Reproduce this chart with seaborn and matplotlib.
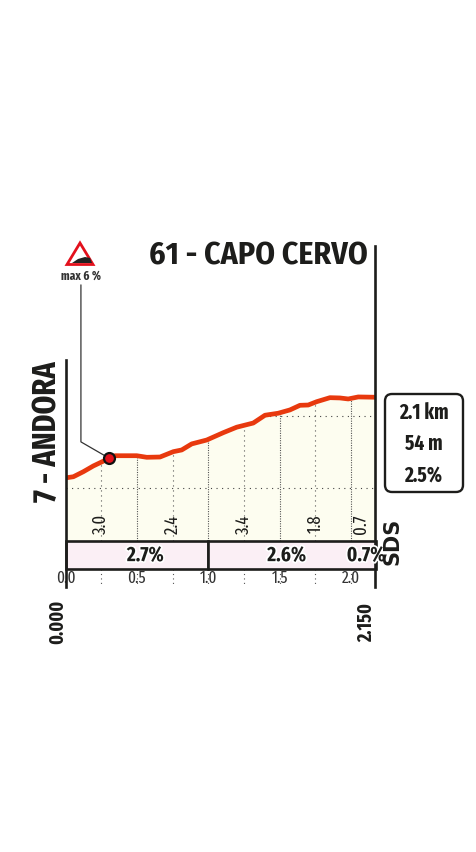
import numpy as np
import matplotlib
matplotlib.use('Agg')
import matplotlib.pyplot as plt
import matplotlib.patheffects as pe
from matplotlib.patches import FancyBboxPatch, Polygon
from matplotlib.transforms import Affine2D
import pandas as pd
import seaborn as sns
import logging

logging.getLogger('matplotlib.font_manager').setLevel(logging.ERROR)

# profile
km = [0.0, 0.055, 0.125, 0.195, 0.307, 0.347, 0.499, 0.569, 0.662, 0.755, 0.814, 0.884, 0.989,
      1.105, 1.199, 1.315, 1.397, 1.490, 1.572, 1.642, 1.700, 1.759, 1.852, 1.922, 1.980, 2.050, 2.171]
elev = [7.0, 7.8, 11.3, 15.3, 20.6, 22.4, 22.4, 21.3, 21.5, 25.2, 26.4, 30.6, 33.3,
        38.4, 42.2, 45.1, 50.5, 51.9, 54.2, 57.4, 57.6, 59.9, 62.7, 62.5, 61.8, 63.2, 63.0]

# gradient band
band_left = [0.0, 1.0]
band_width = [1.0, 1.171]
band_labels = ['2.7%', '2.6%', '0.7%']
band_label_km = [0.56, 1.55, 2.105]

# small gradients written up the profile
small_km = [0.25, 0.75, 1.25, 1.75, 2.07]
small_labels = ['3.0', '2.4', '3.4', '1.8', '0.7']

km_ticks = [0.0, 0.5, 1.0, 1.5, 2.0]
km_tick_labels = ['0.0', '0.5', '1.0', '1.5', '2.0']
grid_km = [0.25, 0.5, 0.75, 1.0, 1.25, 1.5, 1.75, 2.0]
grid_elev = [0, 50]
steep_km = 0.307
steep_elev = 20.6
info_lines = ['2.1 km', '54 m', '2.5%']

sns.set_style('white')
narrow = ['Fira Sans Extra Condensed', 'Fira Sans Condensed', 'Barlow Condensed', 'Liberation Sans', 'DejaVu Sans']
semi = ['Fira Sans Condensed', 'Barlow Condensed', 'Liberation Sans', 'DejaVu Sans']
plt.rcParams['font.family'] = narrow

dark = '#1d1d1b'
red = '#e8390e'

fig = plt.figure(figsize=(4.77, 8.52), dpi=100)
# axes goes from x 65.5 to 375.5 and y 246 to 587 in image pixels
ax = fig.add_axes([65.5 / 477, 1 - 587 / 852, 310 / 477, 341 / 852])
ax.set_xlim(0, 2.171)
ax.set_ylim(-68.75, 168)
ax.set_xticks([])
ax.set_yticks([])

# image pixel coordinates for the decorations outside the chart
px = Affine2D().scale(1, -1).translate(0, 852)

base = -36.8
band_low = -56.25
ax.fill_between(km, elev, base, color='#fdfdf0', lw=0, zorder=1)

# dotted grid stops at the profile
for x in grid_km:
    top = np.interp(x, km, elev)
    dense = x in km_ticks
    ax.plot([x, x], [base, top], color='#555555', lw=0.8, zorder=2,
            ls=(0, (1, 1.2)) if dense else (0, (1, 3.5)))
    ax.plot([x, x], [band_low, -67], color='#555555', lw=0.8, zorder=2, ls=(0, (1, 3)))
for y in grid_elev:
    start = np.interp(y, elev, km) if y > 7 else 0
    ax.plot([start, 2.171], [y, y], color='#444444', lw=0.8, zorder=2, ls=(0, (1, 4)))

df = pd.DataFrame({'km': km, 'elev': elev})
sns.lineplot(data=df, x='km', y='elev', color=red, lw=3.4, ax=ax, zorder=4, errorbar=None,
             solid_capstyle='butt')
ax.set_xlabel('')
ax.set_ylabel('')

ax.barh((base + band_low) / 2, band_width, left=band_left, height=base - band_low,
        color='#fbeff5', edgecolor=dark, lw=1.9, zorder=3, clip_on=False)

for s in ['top', 'bottom']:
    ax.spines[s].set_visible(False)
for s in ['left', 'right']:
    ax.spines[s].set_color(dark)
    ax.spines[s].set_linewidth(1.9)
    ax.spines[s].set_zorder(6)
ax.spines['left'].set_bounds(-68.75, 89)

halo = [pe.withStroke(linewidth=2.5, foreground='white')]
for x, lab in zip(band_label_km, band_labels):
    ax.text(x, (base + band_low) / 2, lab, ha='center', va='center', fontsize=15,
            fontweight='bold', color=dark, zorder=7, path_effects=halo, clip_on=False, family=narrow)
for x, lab in zip(small_km, small_labels):
    ax.text(x, -25, lab, rotation=90, ha='center', va='center', fontsize=13, color=dark, zorder=5)
for x, lab in zip(km_ticks, km_tick_labels):
    ax.text(x, -62.5, lab, ha='center', va='center', fontsize=12, color='#333333', zorder=5, clip_on=False)

# leader and steepest point
ax.plot([steep_km, 0.108, 0.108], [steep_elev, 32, 141], color='#333333', lw=0.9, zorder=3)
ax.scatter([steep_km], [steep_elev], s=62, color='#e3101c', edgecolor='#111111', lw=1.6, zorder=6)

# texts around the chart
fig.text(368, 256, '61 - CAPO CERVO', transform=px, ha='right', va='center', fontsize=22.8,
         fontweight='bold', color=dark, family=semi)
fig.text(47, 432, '7 - ANDORA', transform=px, rotation=90, ha='center', va='center', fontsize=23.5,
         fontweight='bold', color=dark)
fig.text(58, 622, '0.000', transform=px, rotation=90, ha='center', va='center', fontsize=14,
         fontweight='bold', color=dark)
fig.text(367, 622, '2.150', transform=px, rotation=90, ha='center', va='center', fontsize=14,
         fontweight='bold', color=dark)
fig.text(392.5, 541, 'SDS', transform=px, rotation=90, ha='center', va='center', fontsize=15,
         fontweight='bold', color=dark, family=['DejaVu Sans'])
fig.text(81, 276, 'max 6 %', transform=px, ha='center', va='center', fontsize=9,
         fontweight='bold', color='#333333')

# info box
fig.add_artist(FancyBboxPatch((388, 397), 72, 92, boxstyle='round,pad=3,rounding_size=7', transform=px,
                              fc='white', ec=dark, lw=1.7))
for yy, line in zip([413, 444, 475], info_lines):
    fig.text(423.5, yy, line, transform=px, ha='center', va='center', fontsize=15,
             fontweight='bold', color=dark)

# steep climb icon
fig.add_artist(Polygon([(80, 243), (93, 264.5), (67, 264.5)], closed=True, transform=px, fc='white',
                       ec='#e3101c', lw=2.0, joinstyle='miter'))
fig.add_artist(Polygon([(72, 263), (78, 259), (85, 257), (90, 258), (92, 263)], closed=True,
                       transform=px, fc='#222222', ec='none'))

fig.savefig('out.png', dpi=100)
